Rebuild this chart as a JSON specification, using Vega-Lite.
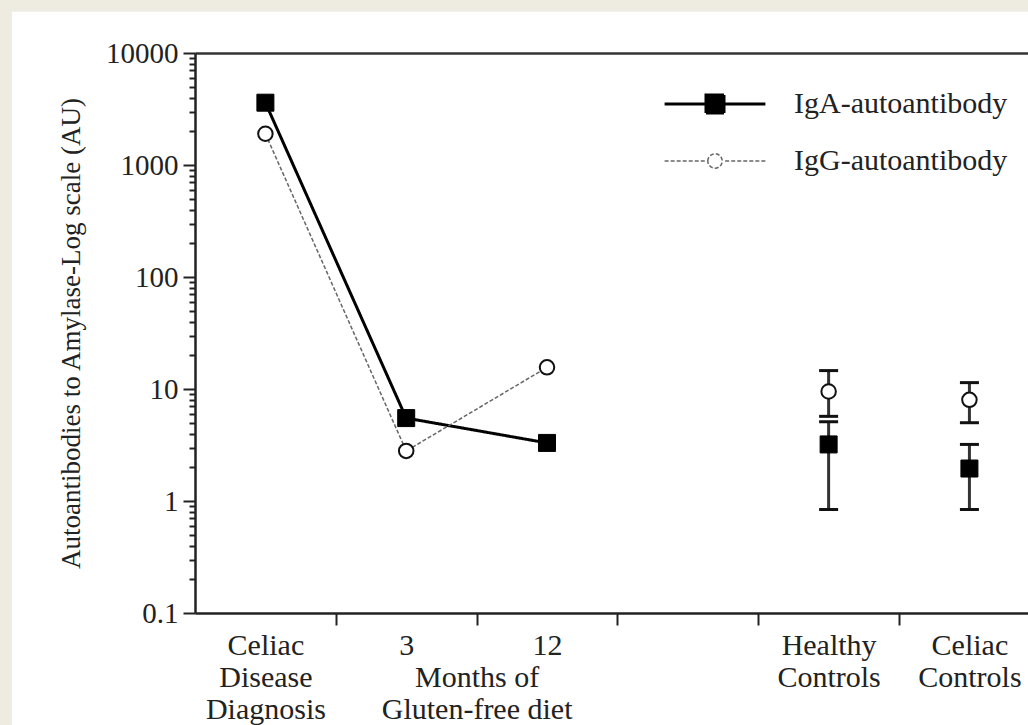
{
  "$schema": "https://vega.github.io/schema/vega-lite/v6.json",
  "width": 833,
  "height": 560,
  "autosize": "none",
  "padding": {"left": 195, "top": 53, "right": 0, "bottom": 112},
  "background": "#EEEBE0",
  "config": {
    "view": {"stroke": null},
    "font": "Liberation Serif"
  },
  "data": {
    "values": [
      {"group": "time", "pos": 0.5, "series": "IgA-autoantibody", "value": 3600},
      {"group": "time", "pos": 1.5, "series": "IgA-autoantibody", "value": 5.5},
      {"group": "time", "pos": 2.5, "series": "IgA-autoantibody", "value": 3.3},
      {"group": "time", "pos": 0.5, "series": "IgG-autoantibody", "value": 1900},
      {"group": "time", "pos": 1.5, "series": "IgG-autoantibody", "value": 2.8},
      {"group": "time", "pos": 2.5, "series": "IgG-autoantibody", "value": 15.6},
      {"group": "control", "pos": 4.5, "series": "IgA-autoantibody", "value": 3.2, "lo": 0.84, "hi": 5.1},
      {"group": "control", "pos": 4.5, "series": "IgG-autoantibody", "value": 9.5, "lo": 5.7, "hi": 14.6},
      {"group": "control", "pos": 5.5, "series": "IgA-autoantibody", "value": 1.95, "lo": 0.84, "hi": 3.2},
      {"group": "control", "pos": 5.5, "series": "IgG-autoantibody", "value": 8.0, "lo": 5.0, "hi": 11.4}
    ]
  },
  "resolve": {"axis": {"x": "independent"}},
  "layer": [
    {
      "data": {"values": [{}]},
      "mark": {"type": "rect", "fill": "white", "clip": false, "zindex": -1},
      "encoding": {
        "x": {"datum": -1.3, "type": "quantitative", "scale": {"domain": [0, 5.916], "nice": false, "zero": false}, "axis": null},
        "x2": {"datum": 8},
        "y": {
          "datum": 23400, "type": "quantitative",
          "scale": {"type": "log", "domain": [0.1, 10000], "nice": false},
          "axis": {
            "zindex": 2,
            "title": "Autoantibodies to Amylase-Log scale (AU)",
            "titleFont": "Liberation Serif", "titleFontSize": 27, "titleFontWeight": "normal", "titleColor": "#222", "titlePadding": 20,
            "values": [0.1,0.2,0.3,0.4,0.5,0.6,0.7,0.8,0.9,1,2,3,4,5,6,7,8,9,10,20,30,40,50,60,70,80,90,100,200,300,400,500,600,700,800,900,1000,2000,3000,4000,5000,6000,7000,8000,9000,10000],
            "labelExpr": "indexof([0.1,1,10,100,1000,10000], datum.value) >= 0 ? format(datum.value, '~g') : ''",
            "tickSize": {"condition": {"test": "indexof([0.1,1,10,100,1000,10000], datum.value) >= 0", "value": 12}, "value": 6},
            "labelFont": "Liberation Serif", "labelFontSize": 29, "labelColor": "#222", "labelPadding": 5,
            "labelOverlap": false, "labelFlush": false, "labelBound": false,
            "grid": false, "domainColor": "#222", "domainWidth": 2.5, "tickColor": "#222", "tickWidth": 2
          }
        },
        "y2": {"datum": 0.0001}
      }
    },
    {
      "transform": [{"filter": "isValid(datum.lo)"}],
      "mark": {"type": "rule", "stroke": "#333", "strokeWidth": 3},
      "encoding": {
        "x": {"field": "pos", "type": "quantitative", "axis": null},
        "y": {"field": "lo", "type": "quantitative"},
        "y2": {"field": "hi"}
      }
    },
    {
      "transform": [{"filter": "isValid(datum.lo)"}],
      "mark": {"type": "point", "shape": "stroke", "size": 361, "stroke": "#111", "strokeWidth": 3, "opacity": 1},
      "encoding": {
        "x": {"field": "pos", "type": "quantitative", "axis": null},
        "y": {"field": "lo", "type": "quantitative"}
      }
    },
    {
      "transform": [{"filter": "isValid(datum.lo)"}],
      "mark": {"type": "point", "shape": "stroke", "size": 361, "stroke": "#111", "strokeWidth": 3, "opacity": 1},
      "encoding": {
        "x": {"field": "pos", "type": "quantitative", "axis": null},
        "y": {"field": "hi", "type": "quantitative"}
      }
    },
    {
      "transform": [{"filter": "datum.group === 'time'"}],
      "mark": {"type": "line"},
      "encoding": {
        "x": {
          "field": "pos", "type": "quantitative",
          "axis": {
            "zindex": 2,
            "values": [0.5, 1, 1.5, 2, 2.0001, 2.5, 3, 4, 4.5, 5, 5.5],
            "title": null, "grid": false,
            "tickSize": {"condition": {"test": "datum.value % 1 === 0", "value": 12}, "value": 0},
            "labelExpr": "datum.value === 0.5 ? ['Celiac','Disease','Diagnosis'] : datum.value === 1.5 ? '3' : datum.value === 2.5 ? '12' : datum.value === 2.0001 ? ['', 'Months of', 'Gluten-free diet'] : datum.value === 4.5 ? ['Healthy','Controls'] : datum.value === 5.5 ? ['Celiac','Controls'] : ''",
            "labelFont": "Liberation Serif", "labelFontSize": 30, "labelLineHeight": 32, "labelColor": "#222",
            "labelPadding": 17, "labelBaseline": "top", "labelAlign": "center", "labelLimit": 400,
            "labelOverlap": false, "labelFlush": false, "labelBound": false,
            "domainColor": "#222", "domainWidth": 2.5, "tickColor": "#222", "tickWidth": 2
          }
        },
        "y": {"field": "value", "type": "quantitative"},
        "stroke": {
          "field": "series", "type": "nominal",
          "scale": {"domain": ["IgA-autoantibody", "IgG-autoantibody"], "range": ["#000000", "#666666"]},
          "legend": {
            "title": null, "orient": "none", "legendX": 505, "legendY": 36, "zindex": 2,
            "symbolSize": 324, "symbolStrokeWidth": 2,
            "labelFont": "Liberation Serif", "labelFontSize": 30, "labelColor": "#222", "labelLimit": 400,
            "labelOffset": 64, "rowPadding": 27, "padding": 0,
            "encode": {
              "symbols": {
                "update": {
                  "shape": {"signal": "datum.value === 'IgA-autoantibody' ? 'M-5.6,0H-1M1,0H5.6M-1,-1H1V1H-1Z' : 'M-5.6,0H-5.15M-4.93,0H-4.48M-4.26,0H-3.81M-3.59,0H-3.14M-2.92,0H-2.47M-2.25,0H-1.8M-1.58,0H-1.13M1.13,0H1.58M1.8,0H2.25M2.47,0H2.92M3.14,0H3.59M3.81,0H4.26M4.48,0H4.93M5.15,0H5.6M-0.8,0A0.8,0.8,0,1,1,0.8,0A0.8,0.8,0,1,1,-0.8,0Z'"},
                  "fill": {"signal": "datum.value === 'IgA-autoantibody' ? '#000' : '#fff'"},
                  "stroke": {"signal": "datum.value === 'IgA-autoantibody' ? '#000' : '#333'"},
                  "strokeWidth": {"signal": "datum.value === 'IgA-autoantibody' ? 3 : 2"},
                  "strokeDash": {"value": []},
                  "opacity": {"value": 1}
                }
              }
            }
          }
        },
        "strokeDash": {
          "field": "series", "type": "nominal",
          "scale": {"domain": ["IgA-autoantibody", "IgG-autoantibody"], "range": [[1, 0], [4, 2]]},
          "legend": null
        },
        "strokeWidth": {
          "field": "series", "type": "ordinal",
          "scale": {"domain": ["IgA-autoantibody", "IgG-autoantibody"], "range": [3, 1.5]},
          "legend": null
        }
      }
    },
    {
      "transform": [{"filter": "datum.series === 'IgA-autoantibody'"}],
      "mark": {"type": "point", "shape": "square", "size": 289, "fill": "#000", "stroke": "#000", "strokeWidth": 1, "opacity": 1},
      "encoding": {
        "x": {
          "field": "pos", "type": "quantitative",
          "axis": {"zindex": 2, "orient": "top", "labels": false, "ticks": false, "title": null, "grid": false, "domainColor": "#333", "domainWidth": 2.5}
        },
        "y": {"field": "value", "type": "quantitative"}
      }
    },
    {
      "transform": [{"filter": "datum.series === 'IgG-autoantibody'"}],
      "mark": {"type": "point", "shape": "circle", "size": 210, "fill": "#fff", "stroke": "#111", "strokeWidth": 2, "opacity": 1},
      "encoding": {
        "x": {"field": "pos", "type": "quantitative", "axis": null},
        "y": {"field": "value", "type": "quantitative"}
      }
    }
  ]
}
